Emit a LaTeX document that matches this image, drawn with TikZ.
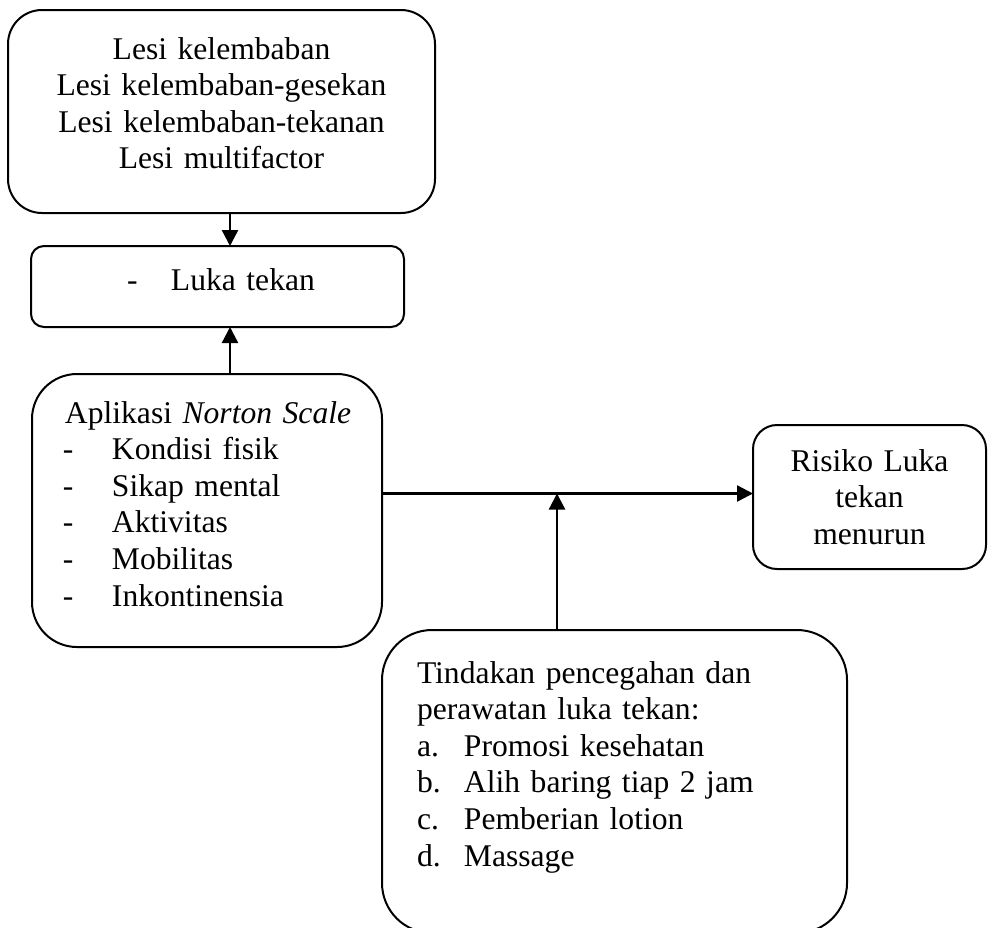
\documentclass[tikz,border=0pt]{standalone}
\usepackage{fontspec}
\setmainfont{Liberation Serif}
\usetikzlibrary{arrows.meta}
\newcommand{\butir}[1]{\hspace*{15.5pt}\makebox[24.5pt][l]{-}#1}
\newcommand{\poin}[2]{\hspace*{17.5pt}\makebox[23.5pt][l]{#1}#2}

\begin{document}
\begin{tikzpicture}[x=0.5pt,y=-0.5pt,
  kotak/.style={draw,line width=1pt,inner sep=0pt,outer sep=0pt,anchor=north west,
    font=\fontsize{15.8pt}{18.3pt}\selectfont},
  panah/.style={-{Triangle[length=8pt,width=8pt]},line width=1.2pt}]
\useasboundingbox (0,0) rectangle (988,927);
\node[kotak,rounded corners=17pt,text width=213.5pt,align=center,text height=24.5pt,text depth=77pt] (lesi) at (8,10)
  {Lesi kelembaban\\Lesi kelembaban-gesekan\\Lesi kelembaban-tekanan\\Lesi multifactor};
\node[kotak,rounded corners=6.5pt,text width=186.5pt,align=left,text height=22pt,text depth=18.5pt] (luka) at (31,246)
  {\hspace*{48pt}\makebox[22pt][l]{-}Luka tekan};
\node[kotak,rounded corners=22.5pt,text width=175pt,align=left,text height=24.5pt,text depth=112pt] (norton) at (32,374)
  {\hspace*{16.5pt}Aplikasi \textit{Norton Scale}\\\butir{Kondisi fisik}\\\butir{Sikap mental}\\\butir{Aktivitas}\\\butir{Mobilitas}\\\butir{Inkontinensia}};
\node[kotak,rounded corners=12pt,text width=116.5pt,align=center,text height=23pt,text depth=49pt] (risiko) at (753,425)
  {Risiko Luka\\tekan\\menurun};
\node[kotak,rounded corners=25pt,text width=232.5pt,align=left,text height=26.5pt,text depth=125pt] (tindakan) at (382,630)
  {\hspace*{17.5pt}Tindakan pencegahan dan\\\hspace*{17.5pt}perawatan luka tekan:\\\poin{a.}{Promosi kesehatan}\\\poin{b.}{Alih baring tiap 2 jam}\\\poin{c.}{Pemberian lotion}\\\poin{d.}{Massage}};
\draw[panah] ([xshift=4.25pt]lesi.south) -- ([xshift=4.25pt]lesi.south |- luka.north);
\draw[panah] ([xshift=11.5pt]norton.north) -- ([xshift=11.5pt]norton.north |- luka.south);
\draw[panah] ([yshift=8.5pt]norton.east) coordinate (cabang) -- (cabang -| risiko.west); % jalur utama
\draw[panah] ([xshift=-28.75pt]tindakan.north) -- ([xshift=-28.75pt]tindakan.north |- cabang);
\end{tikzpicture}
\end{document}
